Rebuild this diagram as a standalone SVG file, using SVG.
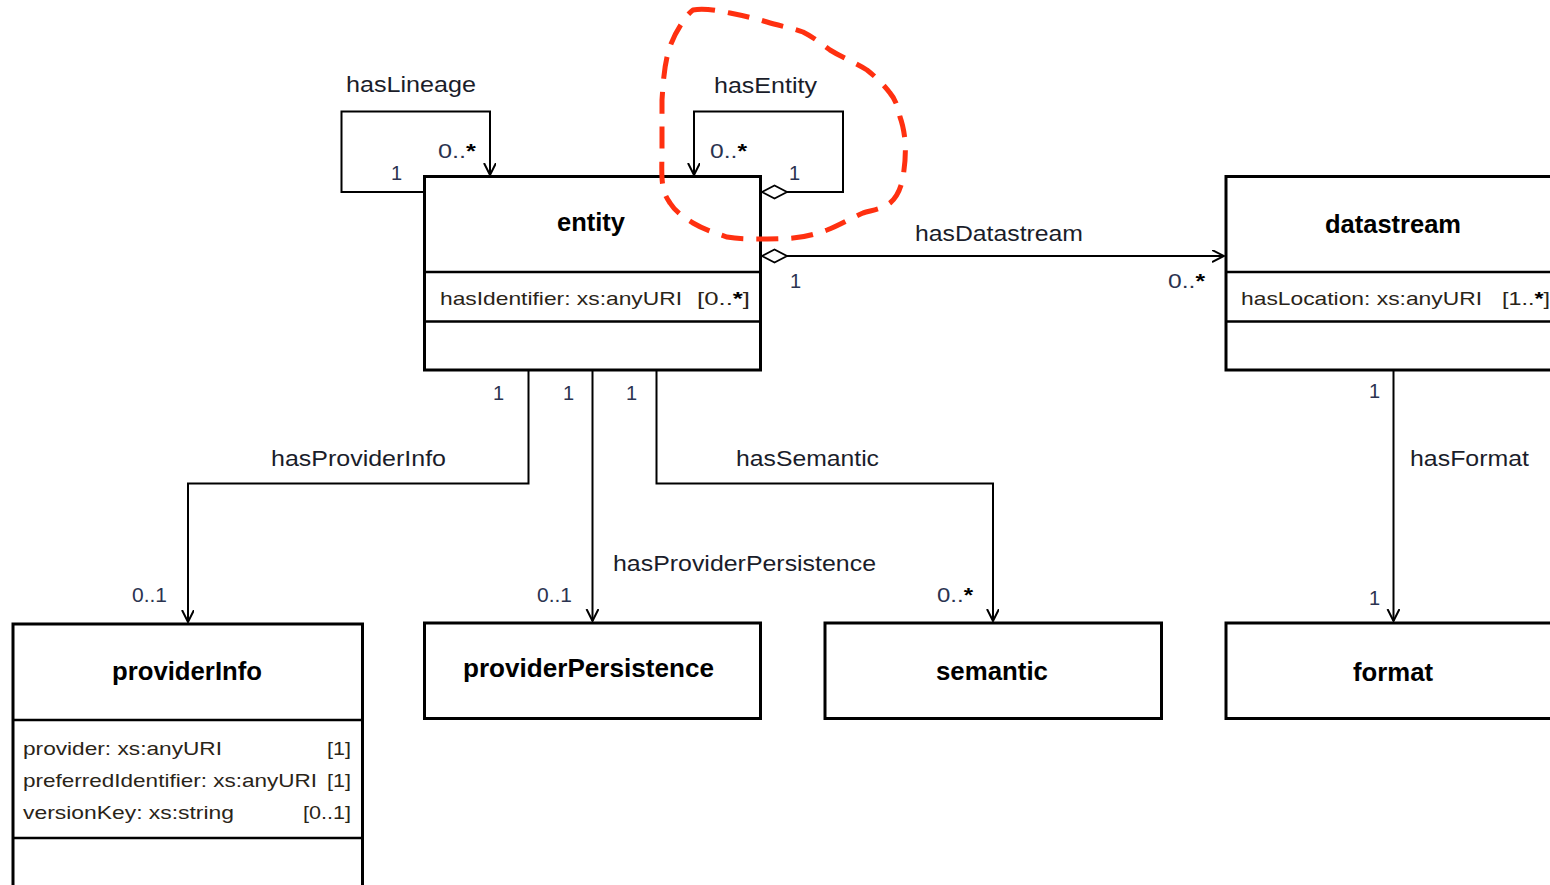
<svg xmlns="http://www.w3.org/2000/svg" width="1550" height="885" viewBox="0 0 1550 885">
<style>
.box{fill:#fff;stroke:#000;stroke-width:3}
.div{stroke:#000;stroke-width:2.5}
.con{fill:none;stroke:#000;stroke-width:2}
.title{font-family:"Liberation Sans",Arial,sans-serif;font-weight:bold;font-size:26px;fill:#000;text-anchor:middle}
.lbl{font-family:"Liberation Sans",Arial,sans-serif;font-size:22px;fill:#1a1d2a}
.mul{font-family:"Liberation Sans",Arial,sans-serif;font-size:20px;fill:#2b3350}
.attr{font-family:"Liberation Sans",Arial,sans-serif;font-size:19px;fill:#2a2418}
.st{font-weight:bold;fill:#000}
.dia{fill:#fff;stroke:#000;stroke-width:1.8}
</style>
<defs>
<marker id="arr" markerUnits="userSpaceOnUse" markerWidth="14" markerHeight="14" refX="12" refY="6" orient="auto">
<path d="M0,0 L12,6 L0,12" fill="none" stroke="#000" stroke-width="2"/>
</marker>
</defs>
<rect width="1550" height="885" fill="#fff"/>

<g id="connectors">
<path class="con" d="M424,192 H341.5 V111.5 H490 V175" marker-end="url(#arr)"/>
<path class="con" d="M787,192 H843 V111.5 H694 V175" marker-end="url(#arr)"/>
<polygon class="dia" points="762,192 774.5,185.5 787,192 774.5,198.5"/>
<path class="con" d="M787,256 H1224" marker-end="url(#arr)"/>
<polygon class="dia" points="762,256 774.5,249.5 787,256 774.5,262.5"/>
<path class="con" d="M528.5,371 V483.5 H188 V622" marker-end="url(#arr)"/>
<path class="con" d="M592.5,371 V621" marker-end="url(#arr)"/>
<path class="con" d="M656.5,371 V483.5 H993 V621" marker-end="url(#arr)"/>
<path class="con" d="M1393.5,371 V621" marker-end="url(#arr)"/>
<text class="lbl" x="346" y="92" textLength="130" lengthAdjust="spacingAndGlyphs">hasLineage</text>
<text class="lbl" x="714" y="93" textLength="103" lengthAdjust="spacingAndGlyphs">hasEntity</text>
<text class="lbl" x="915" y="241" textLength="168" lengthAdjust="spacingAndGlyphs">hasDatastream</text>
<text class="lbl" x="271" y="466" textLength="175" lengthAdjust="spacingAndGlyphs">hasProviderInfo</text>
<text class="lbl" x="736" y="466" textLength="143" lengthAdjust="spacingAndGlyphs">hasSemantic</text>
<text class="lbl" x="613" y="571" textLength="263" lengthAdjust="spacingAndGlyphs">hasProviderPersistence</text>
<text class="lbl" x="1410" y="466" textLength="119" lengthAdjust="spacingAndGlyphs">hasFormat</text>
<text class="mul" x="438" y="158" textLength="38" lengthAdjust="spacingAndGlyphs">0..<tspan class="st">*</tspan></text>
<text class="mul" x="391" y="180">1</text>
<text class="mul" x="710" y="158" textLength="37" lengthAdjust="spacingAndGlyphs">0..<tspan class="st">*</tspan></text>
<text class="mul" x="789" y="180">1</text>
<text class="mul" x="790" y="288">1</text>
<text class="mul" x="1168" y="288" textLength="37" lengthAdjust="spacingAndGlyphs">0..<tspan class="st">*</tspan></text>
<text class="mul" x="493" y="400">1</text>
<text class="mul" x="563" y="400">1</text>
<text class="mul" x="626" y="400">1</text>
<text class="mul" x="132" y="602" textLength="35" lengthAdjust="spacingAndGlyphs">0..1</text>
<text class="mul" x="537" y="602" textLength="35" lengthAdjust="spacingAndGlyphs">0..1</text>
<text class="mul" x="937" y="602" textLength="36" lengthAdjust="spacingAndGlyphs">0..<tspan class="st">*</tspan></text>
<text class="mul" x="1369" y="398">1</text>
<text class="mul" x="1369" y="605">1</text>
</g>

<g id="entity">
<rect class="box" x="424.5" y="176.5" width="336" height="193.5"/>
<line class="div" x1="424.5" y1="272" x2="760.5" y2="272"/>
<line class="div" x1="424.5" y1="321.5" x2="760.5" y2="321.5"/>
<text class="title" x="591" y="231" textLength="68" lengthAdjust="spacingAndGlyphs">entity</text>
<text class="attr" x="440" y="305" textLength="242" lengthAdjust="spacingAndGlyphs">hasIdentifier: xs:anyURI</text>
<text class="attr" x="697" y="305" textLength="53" lengthAdjust="spacingAndGlyphs">[0..<tspan class="st">*</tspan>]</text>
</g>

<g id="datastream">
<rect class="box" x="1226" y="176.5" width="340" height="193.5"/>
<line class="div" x1="1226" y1="272" x2="1566" y2="272"/>
<line class="div" x1="1226" y1="321.5" x2="1566" y2="321.5"/>
<text class="title" x="1393" y="233" textLength="136" lengthAdjust="spacingAndGlyphs">datastream</text>
<text class="attr" x="1241" y="305" textLength="241" lengthAdjust="spacingAndGlyphs">hasLocation: xs:anyURI</text>
<text class="attr" x="1502" y="305" textLength="48" lengthAdjust="spacingAndGlyphs">[1..<tspan class="st">*</tspan>]</text>
</g>

<g id="providerInfo">
<rect class="box" x="13" y="624" width="349.5" height="280"/>
<line class="div" x1="13" y1="720" x2="362.5" y2="720"/>
<line class="div" x1="13" y1="838" x2="362.5" y2="838"/>
<text class="title" x="187" y="680" textLength="150" lengthAdjust="spacingAndGlyphs">providerInfo</text>
<text class="attr" x="23" y="755" textLength="199" lengthAdjust="spacingAndGlyphs">provider: xs:anyURI</text>
<text class="attr" x="327" y="755" textLength="24" lengthAdjust="spacingAndGlyphs">[1]</text>
<text class="attr" x="23" y="787" textLength="294" lengthAdjust="spacingAndGlyphs">preferredIdentifier: xs:anyURI</text>
<text class="attr" x="327" y="787" textLength="24" lengthAdjust="spacingAndGlyphs">[1]</text>
<text class="attr" x="23" y="819" textLength="211" lengthAdjust="spacingAndGlyphs">versionKey: xs:string</text>
<text class="attr" x="303" y="819" textLength="48" lengthAdjust="spacingAndGlyphs">[0..1]</text>
</g>

<g id="providerPersistence">
<rect class="box" x="424.5" y="623" width="336" height="95.5"/>
<text class="title" x="588.5" y="677" textLength="251" lengthAdjust="spacingAndGlyphs">providerPersistence</text>
</g>

<g id="semantic">
<rect class="box" x="825" y="623" width="336.5" height="95.5"/>
<text class="title" x="992" y="680" textLength="112" lengthAdjust="spacingAndGlyphs">semantic</text>
</g>

<g id="format">
<rect class="box" x="1226" y="623" width="340" height="95.5"/>
<text class="title" x="1393" y="681" textLength="80" lengthAdjust="spacingAndGlyphs">format</text>
</g>

<g id="highlight">
<path d="M693,10 C705,8 720,11 730,13 C745,16 757,19 767,22 C780,26 792,28 803,32 C813,37 822,44 830,50 C843,58 856,63 867,70 C877,78 884,85 890,93 C896,100 898,108 900,117 C903,125 904,132 905,140 C906,152 905,165 903,177 C901,188 897,197 890,203 C882,209 873,210 863,213 C851,218 840,225 827,230 C816,234 805,237 793,238 C782,239 771,239 760,239 C749,239 738,239 727,237 C715,233 703,229 693,223 C683,217 675,211 670,203 C666,197 664,193 663,187 C661,175 662,163 662,150 C662,133 662,117 662,100 C663,85 664,68 668,53 C671,42 676,32 682,23 C685,18 689,13 693,10 Z" fill="none" stroke="#ff3010" stroke-width="5" stroke-dasharray="22 13"/>
</g>
</svg>
